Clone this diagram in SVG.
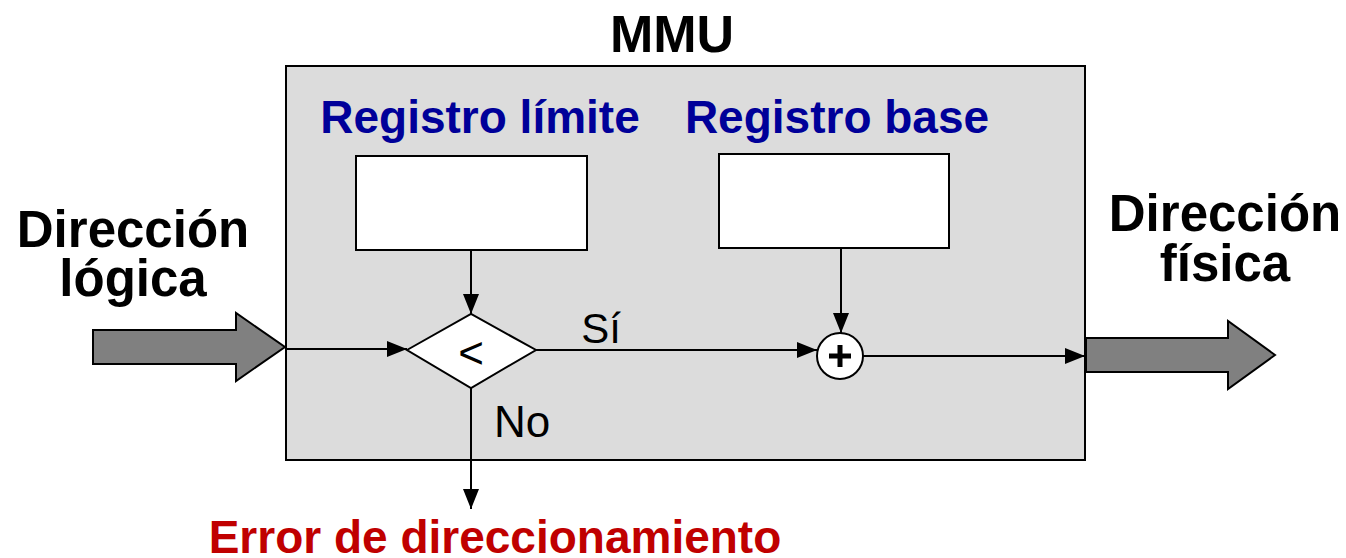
<svg xmlns="http://www.w3.org/2000/svg" width="1346" height="558" viewBox="0 0 1346 558">
<style>
.t{font-family:"Liberation Sans",Arial,sans-serif;font-weight:bold;text-anchor:middle}
.n{font-family:"Liberation Sans",Arial,sans-serif;text-anchor:middle}
.blue{fill:#000099}
.red{fill:#c00000}
.ln{stroke:#000;stroke-width:2;fill:none}
.box{fill:#fff;stroke:#000;stroke-width:2}
.big{fill:#808080;stroke:#000;stroke-width:2}
</style>
<defs>
<marker id="a" viewBox="0 0 20 16" refX="20" refY="8" markerWidth="20" markerHeight="16" markerUnits="userSpaceOnUse" orient="auto">
<path d="M0,0 L20,8 L0,16 z" fill="#000"/>
</marker>
</defs>
<rect width="1346" height="558" fill="#fff"/>
<g id="mmu">
<rect x="286" y="66" width="799" height="394" fill="#dcdcdc" stroke="#000" stroke-width="2"/>
<text class="t" x="672" y="52" font-size="52">MMU</text>
</g>
<g id="in-arrow">
<path class="big" d="M93,330 L236,330 L236,313 L285,347 L236,381 L236,364 L93,364 Z"/>
<text class="t" x="133" y="247" font-size="51">Dirección</text>
<text class="t" x="133" y="296" font-size="51">lógica</text>
</g>
<g id="out-arrow">
<path class="big" d="M1086,338 L1228,338 L1228,321 L1275,355 L1228,389 L1228,372 L1086,372 Z"/>
<text class="t" x="1225" y="231" font-size="51">Dirección</text>
<text class="t" x="1225" y="281" font-size="51">física</text>
</g>
<g id="limite">
<text class="t blue" x="480" y="133" font-size="46">Registro límite</text>
<rect class="box" x="356" y="156" width="231" height="94"/>
</g>
<g id="base">
<text class="t blue" x="837" y="133" font-size="46">Registro base</text>
<rect class="box" x="719" y="154" width="230" height="94"/>
</g>
<g id="compare">
<path class="box" d="M407,350 L471,314 L536,350 L471,388 Z"/>
<text class="n" x="471" y="368" font-size="44">&lt;</text>
</g>
<g id="adder">
<circle class="box" cx="840" cy="356" r="23"/>
<path d="M840,345 V367 M829,356 H851" stroke="#000" stroke-width="5"/>
</g>
<g id="error">
<text class="t red" x="495" y="553" font-size="46">Error de direccionamiento</text>
</g>
<g id="connectors">
<line class="ln" x1="286" y1="349" x2="407" y2="349" marker-end="url(#a)"/>
<line class="ln" x1="471" y1="250" x2="471" y2="314" marker-end="url(#a)"/>
<line class="ln" x1="536" y1="350" x2="817" y2="350" marker-end="url(#a)"/>
<line class="ln" x1="841" y1="248" x2="841" y2="333" marker-end="url(#a)"/>
<line class="ln" x1="863" y1="356" x2="1085" y2="356" marker-end="url(#a)"/>
<line class="ln" x1="471" y1="388" x2="471" y2="509" marker-end="url(#a)"/>
<text class="n" x="601" y="343" font-size="42">Sí</text>
<text class="n" x="522" y="437" font-size="44">No</text>
</g>
</svg>
